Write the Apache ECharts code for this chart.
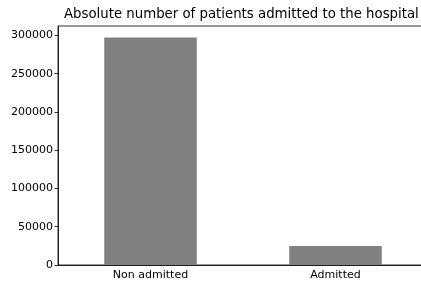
<!DOCTYPE html>
<html>
<head>
<meta charset="utf-8">
<script src="https://cdn.jsdelivr.net/npm/echarts@6/dist/echarts.min.js"></script>
<style>
  html, body { margin: 0; padding: 0; background: #fff; overflow: hidden; }
  #chart { width: 428px; height: 285px; }
</style>
</head>
<body>
<div id="chart"></div>
<script>
  // data
  var categories = ['Non admitted', 'Admitted']
  var patients = [297500, 24800]
  var yTicks = [0, 50000, 100000, 150000, 200000, 250000, 300000]

  // chart is a bit wider than the window: the right side of the axes box is cut off
  var myChart = echarts.init(document.getElementById('chart'), null, { renderer: 'canvas' })
  var font = 'DejaVu Sans'
  var option = {
    animation: false,
    title: {
      text: 'Absolute number of patients admitted to the hospital',
      left: 64,
      top: 8,
      padding: 0,
      textStyle: { fontFamily: font, fontSize: 13.3, fontWeight: 'normal', color: '#000' }
    },
    grid: {
      left: 58, right: 0, top: 26, bottom: 20,
      show: true, borderColor: '#000', borderWidth: 0.8, backgroundColor: 'transparent'
    },
    xAxis: {
      type: 'category',
      data: categories,
      boundaryGap: true,
      axisLine: { lineStyle: { color: '#000', width: 0.8 } },
      axisTick: { alignWithLabel: true, length: 3.5, lineStyle: { color: '#000', width: 0.8 } },
      axisLabel: { fontFamily: font, fontSize: 11, color: '#000', margin: 5 }
    },
    yAxis: {
      type: 'value',
      min: 0,
      max: 312400,
      interval: 50000,
      axisLine: { show: true, lineStyle: { color: '#000', width: 0.8 } },
      axisTick: { show: true, length: 3.5, lineStyle: { color: '#000', width: 0.8 } },
      splitLine: { show: false },
      axisLabel: {
        fontFamily: font, fontSize: 11, color: '#000', margin: 5,
        showMaxLabel: false,
        formatter: function (v) { return yTicks.indexOf(v) >= 0 ? String(v) : '' }
      }
    },
    series: [{
      type: 'bar',
      data: patients,
      barWidth: '50%',
      itemStyle: { color: '#808080' }
    }]
  }
  myChart.setOption(option)
</script>
</body>
</html>
